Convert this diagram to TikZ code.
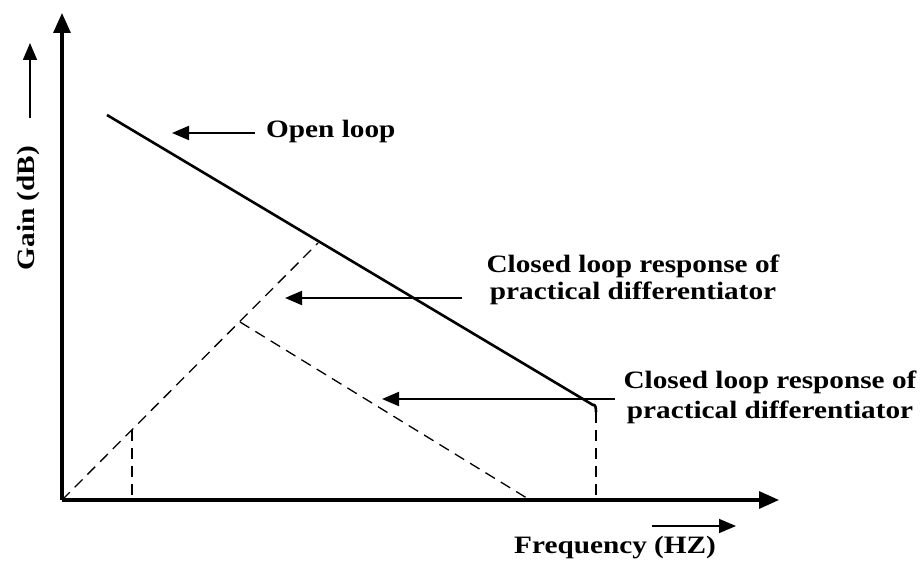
\documentclass[tikz,border=0pt]{standalone}
\usepackage{fontspec}
\setmainfont{Liberation Serif}
\newfontfamily\lblfont{Liberation Serif}[FakeStretch=1.17]
\usetikzlibrary{arrows.meta}
\begin{document}
\begin{tikzpicture}[x=1pt,y=-1pt,
  lbl/.style={font=\lblfont\bfseries\fontsize{25}{27}\selectfont, inner sep=0pt, align=center},
  axis/.style={line width=3.2pt, -{Triangle[length=20pt,width=17pt]}},
  pointer/.style={line width=2pt, -{Triangle[length=17pt,width=14pt]}},
  curve/.style={line width=2.6pt},
  dashln/.style={line width=1.3pt, dash pattern=on 11pt off 7pt}]
\useasboundingbox[fill=white] (0,0) rectangle (923,572);
% coordinates
\coordinate (O) at (62,500);
\coordinate (ytip) at (62,13);
\coordinate (xtip) at (779,500);
\coordinate (ol1) at (107,115);
\coordinate (ol2) at (593,405);
\coordinate (olc) at (596,412);
\coordinate (fx) at (596,500);
\coordinate (d1) at (318,243);
\coordinate (p1) at (132,430);
\coordinate (p1b) at (132,500);
\coordinate (d2a) at (240,322);
\coordinate (d2b) at (530,500);
% axes
\draw[axis] (O) -- (ytip);
\draw[axis] (O) -- (xtip);
% open loop
\draw[curve, line join=round] (ol1) -- (ol2) to[out=30,in=90] (olc);
\draw[dashln] (olc) -- (fx);
% closed loop dashed
\draw[dashln] (O) -- (d1);
\draw[dashln] (p1) -- (p1b);
\draw[dashln] (d2a) -- (d2b);
% labels
\node[lbl, anchor=base west] (tOL) at (266,138) {Open loop};
\coordinate (aOL) at (172,133);
\coordinate (aOLs) at (255,133);
\draw[pointer] (aOLs) -- (aOL);
\node[lbl] (tCL1) at (633,280) {Closed loop response of\\practical differentiator};
\coordinate (aCL1) at (285,298);
\coordinate (aCL1s) at (462,298);
\draw[pointer] (aCL1s) -- (aCL1);
\node[lbl, font=\lblfont\bfseries\fontsize{25}{30}\selectfont] (tCL2) at (770,397) {Closed loop response of\\practical differentiator};
\coordinate (aCL2) at (382,399);
\coordinate (aCL2s) at (615,399);
\draw[pointer] (aCL2s) -- (aCL2);
% axis labels
\node[lbl, anchor=base west] (tF) at (514,553) {Frequency (HZ)};
\coordinate (fA) at (652,526);
\coordinate (fB) at (736,526);
\draw[pointer, line width=1.6pt] (fA) -- (fB);
\node[lbl, rotate=90] (tG) at (28,208) {Gain (dB)};
\coordinate (gA) at (30,118);
\coordinate (gB) at (30,43);
\draw[pointer, line width=1.6pt] (gA) -- (gB);
\end{tikzpicture}
\end{document}
